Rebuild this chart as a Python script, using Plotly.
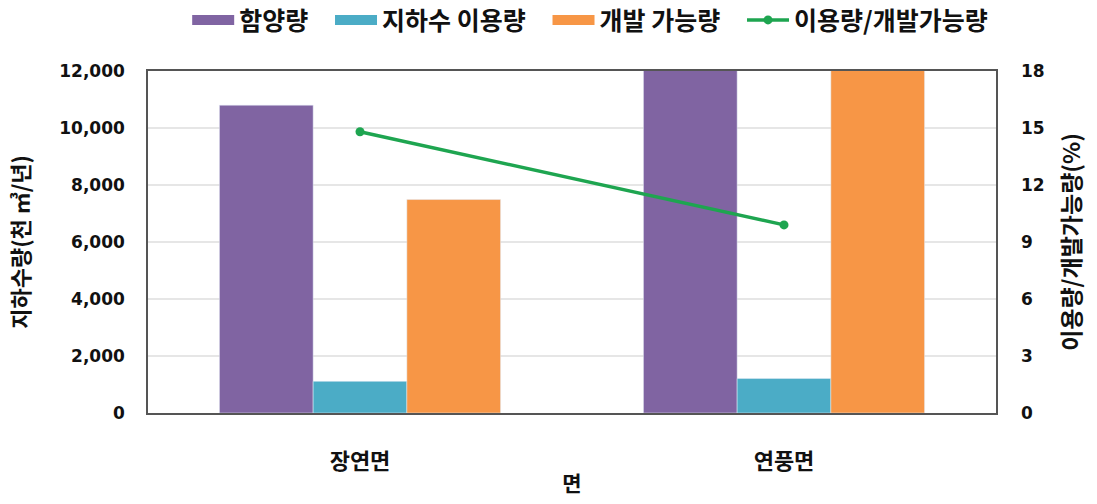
import plotly.graph_objects as go

categories = ["장연면", "연풍면"]
recharge = [10800, 13500]
usage = [1110, 1210]
developable = [7490, 12200]
ratio = [14.8, 9.9]

FONT = "Noto Sans CJK KR"
PURPLE, CYAN, ORANGE, GREEN = "#8064A2", "#4BACC6", "#F79646", "#1EA550"
fig = go.Figure()
fig.add_trace(go.Bar(x=categories, y=recharge, name="함양량", marker_color=PURPLE, showlegend=False))
fig.add_trace(go.Bar(x=categories, y=usage, name="지하수 이용량", marker_color=CYAN, showlegend=False))
fig.add_trace(go.Bar(x=categories, y=developable, name="개발 가능량", marker_color=ORANGE, showlegend=False))
# legend entries drawn as wide colour swatches (like the original's rectangles)
for nm, col in [("함양량", PURPLE), ("지하수 이용량", CYAN), ("개발 가능량", ORANGE)]:
    fig.add_trace(go.Scatter(x=[None], y=[None], mode="lines", name="<b>%s</b>&nbsp;&nbsp;&nbsp;" % nm,
                             line=dict(color=col, width=12), hoverinfo="skip"))
fig.add_trace(go.Scatter(x=categories, y=ratio, name="<b>이용량/개발가능량</b>", yaxis="y2",
                         mode="lines+markers", line=dict(color=GREEN, width=3.5),
                         marker=dict(size=9, color=GREEN)))

ytv = [0, 2000, 4000, 6000, 8000, 10000, 12000]
y2tv = [0, 3, 6, 9, 12, 15, 18]
fig.update_layout(
    width=1097, height=504,
    margin=dict(l=148, r=101, t=71, b=87),
    paper_bgcolor="white", plot_bgcolor="white",
    font=dict(family=FONT, color="#111"),
    barmode="group", bargap=0.337, bargroupgap=0,
    showlegend=True,
    legend=dict(orientation="h", x=0.538, xanchor="center", xref="container",
                yref="container", y=0.96, yanchor="middle",
                font=dict(size=25, family=FONT), itemwidth=42,
                traceorder="normal", tracegroupgap=0),
    xaxis=dict(title=dict(text="<b>면</b>", font=dict(size=21), standoff=2),
               tickvals=categories, ticktext=["<b>%s</b>" % c for c in categories],
               tickfont=dict(size=22), ticks="", showline=True, linecolor="#555",
               linewidth=1.5, mirror=True, ticklabelstandoff=28),
    yaxis=dict(title=dict(text="<b>지하수량(천 ㎥/년)</b>", font=dict(size=22), standoff=24),
               range=[0, 12000], tickvals=ytv,
               ticktext=["<b>{:,}</b>".format(v) for v in ytv],
               tickfont=dict(size=17, family="DejaVu Sans"),
               gridcolor="#E6E6E6", gridwidth=1.5, showline=True, linecolor="#555",
               linewidth=1.5, mirror=True, zeroline=False, ticklabelstandoff=18),
    yaxis2=dict(title=dict(text="<b>이용량/개발가능량(%)</b>", font=dict(size=23), standoff=20),
                overlaying="y", side="right", range=[0, 18], tickvals=y2tv,
                ticktext=["<b>%d</b>" % v for v in y2tv],
                tickfont=dict(size=17, family="DejaVu Sans"),
                showgrid=False, zeroline=False, ticklabelstandoff=24),
)
fig.write_html("out.html")
